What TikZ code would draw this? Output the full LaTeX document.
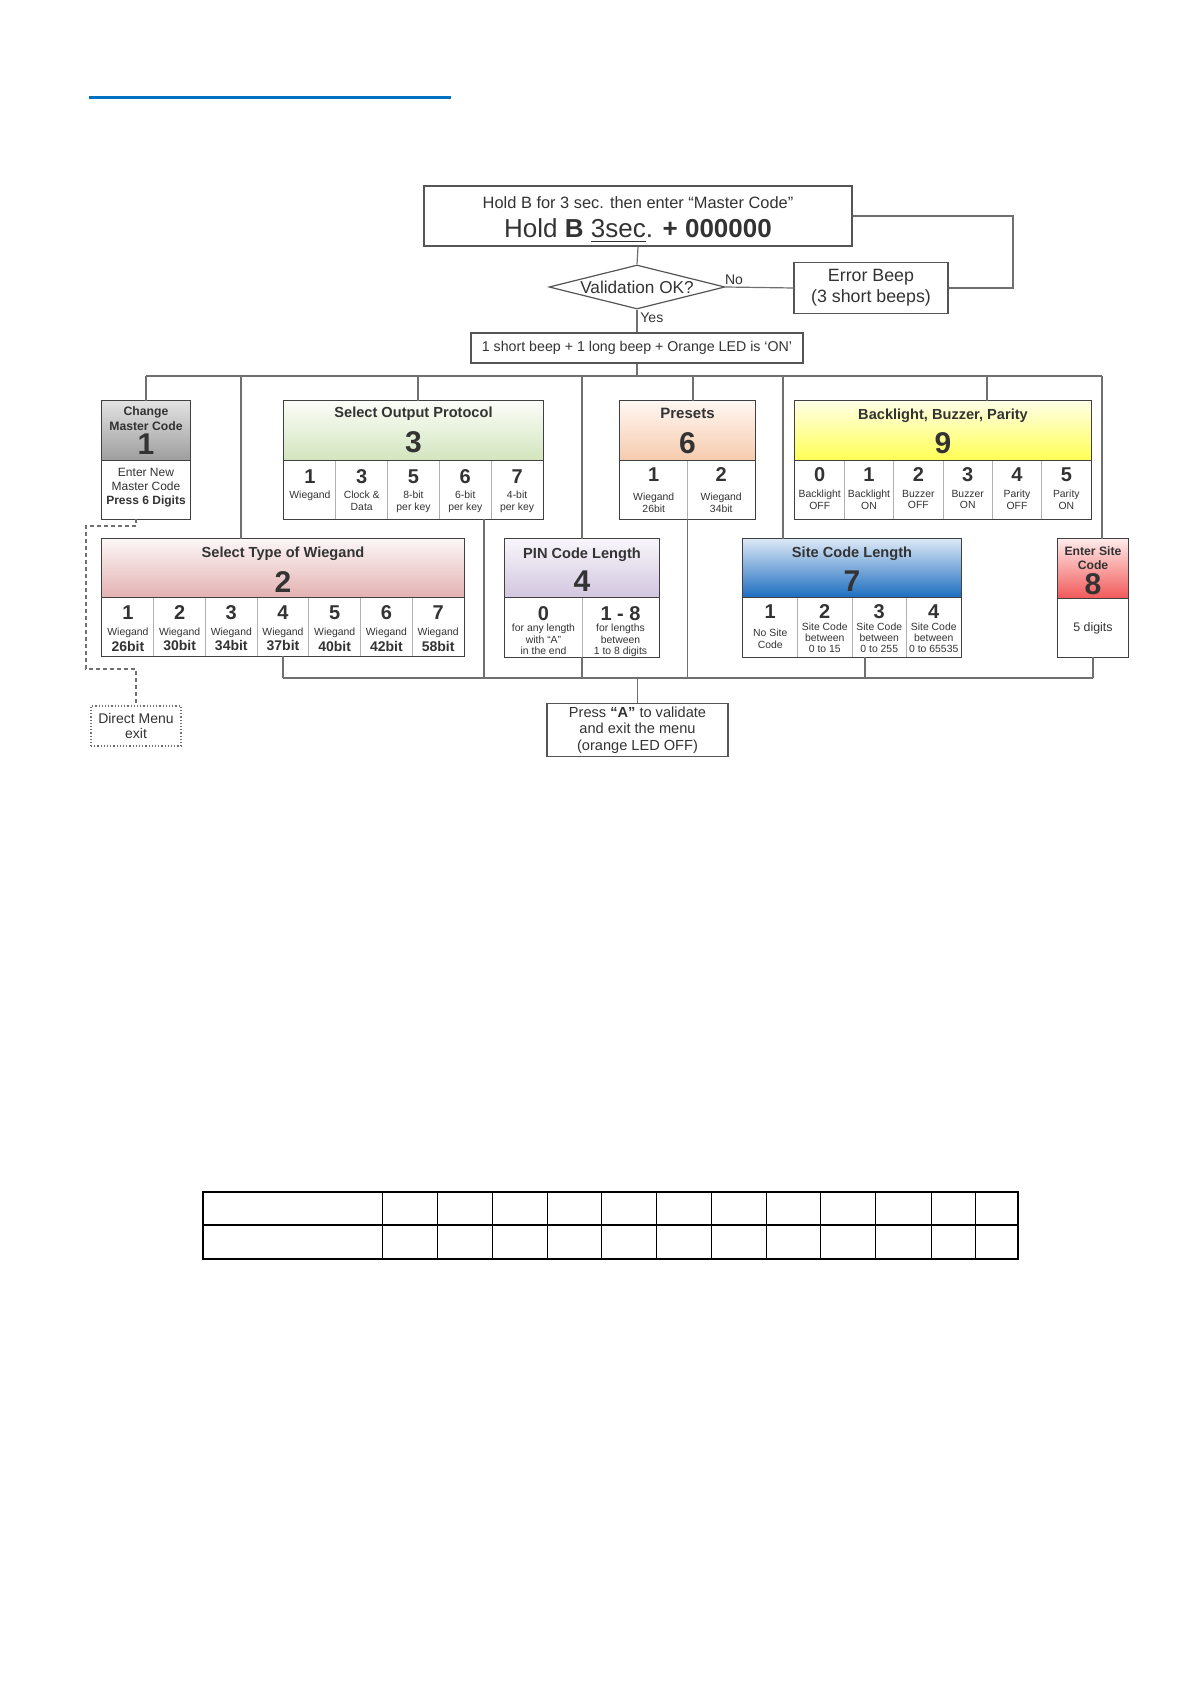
\documentclass[tikz,border=0pt]{standalone}
\usepackage{fontspec}
\setmainfont{Liberation Sans}
\usetikzlibrary{shapes.geometric,calc}
\definecolor{txt}{HTML}{333333}
\definecolor{conc}{HTML}{707070}
\definecolor{frm}{HTML}{404040}
\definecolor{sepc}{HTML}{B0B0B0}
\definecolor{boxc}{HTML}{555555}
\definecolor{blu}{HTML}{0070C0}
\definecolor{g1t}{HTML}{E2E2E2}\definecolor{g1b}{HTML}{9E9E9E}
\definecolor{g3t}{HTML}{FBFDF8}\definecolor{g3b}{HTML}{D3E5BE}
\definecolor{g6t}{HTML}{FFF7F2}\definecolor{g6b}{HTML}{F6CBAE}
\definecolor{g9t}{HTML}{FFFFE6}\definecolor{g9b}{HTML}{FFFF55}
\definecolor{g2t}{HTML}{FCF6F6}\definecolor{g2b}{HTML}{E4B2B2}
\definecolor{g4t}{HTML}{F8F6FB}\definecolor{g4b}{HTML}{D2C6DF}
\definecolor{g7t}{HTML}{DCE8F6}\definecolor{g7b}{HTML}{1E6EC0}
\definecolor{g8t}{HTML}{FFEAEA}\definecolor{g8b}{HTML}{F25A5A}
\newcommand\fs[2]{\fontsize{#1pt}{#2pt}\selectfont}
\tikzset{
 conn/.style={draw=conc, line width=0.6pt},
 dsh/.style={draw=conc, line width=0.6pt, dash pattern=on 2pt off 1.5pt},
 sbox/.style={rectangle, draw=boxc, line width=0.6pt, fill=white, inner sep=0pt, align=center, text=txt},
 boxbg/.style={rectangle, fill=white, draw=none, inner sep=0pt},
 hdrbox/.style={rectangle, draw=none, inner sep=0pt},
 frame/.style={draw=frm, line width=0.8pt},
 hline/.style={draw=frm, line width=0.6pt},
 sepl/.style={draw=sepc, line width=0.5pt},
 ttl/.style={text=txt, inner sep=0pt, align=center, font=\bfseries\fs{7.3}{8.5}},
 ttlb/.style={text=txt, inner sep=0pt, anchor=base, font=\bfseries\fs{7.3}{8.5}},
 big/.style={text=txt, inner sep=0pt, font=\bfseries\fs{15}{15}},
 num/.style={text=txt, inner sep=0pt, font=\bfseries\fs{10}{10}},
 sml/.style={text=txt, inner sep=0pt, align=center, anchor=north, font=\fs{5.2}{5.7}},
 lbl/.style={text=txt, inner sep=0pt, align=center},
}
\newcommand\mkbox[8]{%
 \node[boxbg, minimum width={(#4-#2)/2}, minimum height={(#5-#3)/2}] (#1) at ({(#2+#4)/2},{(#3+#5)/2}) {};
 \node[hdrbox, top color=#7, bottom color=#8, minimum width={(#4-#2)/2}, minimum height={(#6-#3)/2}] (#1h) at ({(#2+#4)/2},{(#3+#6)/2}) {};
}
\newcommand\mkframe[1]{%
 \draw[hline] (#1h.south west) -- (#1h.south east);
 \draw[frame] (#1.south west) rectangle (#1.north east);
}
\newcommand\mkseps[3]{\foreach \sx in {#1} {\draw[sepl] (\sx,#2) -- (\sx,#3);}}
\begin{document}
\begin{tikzpicture}[x=0.5pt,y=-0.5pt]
\useasboundingbox (0,0) rectangle (1192,1684);
\fill[white] (0,0) rectangle (1192,1684);
\draw[blu, line width=1.5pt] (89,98) -- (451,98);

% ---------- top part
\node[sbox, minimum width=214pt, minimum height=30pt] (top) at (638,216) {};
\node[lbl, anchor=base, font=\fs{8.2}{9}] (topt1) at (638,209) {Hold B for 3 sec. then enter “Master Code”};
\node[lbl, anchor=base, font=\fs{13}{14}] (topt2) at (638,238) {Hold \textbf{B} \underline{3sec}. \textbf{+ 000000}};
\node[diamond, draw=boxc, line width=0.6pt, fill=white, aspect=4, inner sep=0pt, minimum width=88pt, minimum height=22pt, text=txt, font=\fs{8.6}{9}] (val) at (637,287) {Validation OK?};
\node[lbl, font=\fs{7}{8}] (no) at (734,280) {No};
\node[lbl, anchor=west, font=\fs{7}{8}] (yes) at (640,318) {Yes};
\node[sbox, minimum width=77pt, minimum height=25.5pt, font=\fs{8.9}{10.5}] (err) at (871,288) {Error Beep\\(3 short beeps)};
\node[sbox, minimum width=166pt, minimum height=15pt, font=\fs{7.1}{8}] (led) at (637,348) {1 short beep + 1 long beep + Orange LED is ‘ON’};
\coordinate (loopc) at (1013,250);
\draw[conn] (top.south) -- (val.north);
\draw[conn] (top.east) -| (loopc) |- (err.east);
\draw[conn] (val.east) -- (err.west);
\draw[conn] (val.south) -- (led.north);

% ---------- box 1
\mkbox{b1}{102}{401}{190}{519}{460}{g1t}{g1b}
\mkframe{b1}
\node[ttl, font=\bfseries\fs{6.1}{7.5}] (b1t) at (146,418.5) {Change\\Master Code};
\node[big] (b1n) at (146,444) {1};
\node[lbl, font=\fs{6}{7}] (b1b) at (146,488) {Enter New\\Master Code\\\textbf{Press 6 Digits}};

% ---------- box 3
\mkbox{b3}{284}{401}{543}{519}{460}{g3t}{g3b}
\mkseps{335.8,387.6,439.4,491.2}{460}{519}
\mkframe{b3}
\node[ttlb] (b3t) at (413.5,417.5) {Select Output Protocol};
\node[big] (b3n) at (413.5,442) {3};
\foreach \cx/\nm/\tx [count=\i] in {309.9/1/{Wiegand}, 361.7/3/{Clock \&\\Data}, 413.5/5/{8-bit\\per key}, 465.3/6/{6-bit\\per key}, 517.1/7/{4-bit\\per key}} {
 \node[num] (b3c\i) at (\cx,477) {\nm};
 \node[sml] (b3d\i) at (\cx,491) {\tx};
}

% ---------- box 6
\mkbox{b6}{620}{401}{755}{519}{460}{g6t}{g6b}
\mkseps{687.5}{460}{519}
\mkframe{b6}
\node[ttlb, font=\bfseries\fs{7.5}{8.5}] (b6t) at (687.5,418.5) {Presets};
\node[big] (b6n) at (687.5,443) {6};
\foreach \cx/\nm/\tx [count=\i] in {653.75/1/{Wiegand\\26bit}, 721.25/2/{Wiegand\\34bit}} {
 \node[num] (b6c\i) at (\cx,475) {\nm};
 \node[sml, font=\fs{5.2}{6}] (b6d\i) at (\cx,493) {\tx};
}

% ---------- box 9
\mkbox{b9}{795}{401}{1091}{519}{460}{g9t}{g9b}
\mkseps{844.3,893.7,943,992.3,1041.7}{460}{519}
\mkframe{b9}
\node[ttlb] (b9t) at (943,419.5) {Backlight, Buzzer, Parity};
\node[big] (b9n) at (943,443) {9};
\foreach \cx/\nm/\tx [count=\i] in {819.7/0/{Backlight\\OFF}, 869/1/{Backlight\\ON}, 918.3/2/{Buzzer\\OFF}, 967.7/3/{Buzzer\\ON}, 1017/4/{Parity\\OFF}, 1066.3/5/{Parity\\ON}} {
 \node[num] (b9c\i) at (\cx,475) {\nm};
 \node[sml, font=\fs{5.2}{5.6}] (b9d\i) at (\cx,490) {\tx};
}

% ---------- box 2
\mkbox{b2}{102}{539}{464}{656}{597}{g2t}{g2b}
\mkseps{153.7,205.4,257.1,308.9,360.6,412.3}{597}{656}
\mkframe{b2}
\node[ttlb] (b2t) at (283,557.5) {Select Type of Wiegand};
\node[big] (b2n) at (283,582) {2};
\foreach \cx/\nm/\tx [count=\i] in {127.9/1/26, 179.6/2/30, 231.3/3/34, 283/4/37, 334.7/5/40, 386.4/6/42, 438.1/7/58} {
 \node[num] (b2c\i) at (\cx,613) {\nm};
 \node[lbl, font=\fs{5.2}{6}] (b2d\i) at (\cx,633) {Wiegand};
 \node[lbl, font=\bfseries\fs{7}{7}] (b2e\i) at (\cx,646) {\tx bit};
}

% ---------- box 4
\mkbox{b4}{505}{539}{659}{657}{597}{g4t}{g4b}
\mkseps{582}{597}{657}
\mkframe{b4}
\node[ttlb] (b4t) at (582,558.5) {PIN Code Length};
\node[big] (b4n) at (582,581) {4};
\node[num] (b4c1) at (543.5,614) {0};
\node[num] (b4c2) at (620.5,614) {1 - 8};
\node[sml, font=\fs{5.2}{5.75}] (b4d1) at (543.5,624) {for any length\\with “A”\\in the end};
\node[sml, font=\fs{5.2}{5.75}] (b4d2) at (620.5,624) {for lengths\\between\\1 to 8 digits};

% ---------- box 7
\mkbox{b7}{743}{539}{961}{657}{597}{g7t}{g7b}
\mkseps{797.5,852,906.5}{597}{657}
\mkframe{b7}
\node[ttlb] (b7t) at (852,557.5) {Site Code Length};
\node[big] (b7n) at (852,581) {7};
\foreach \cx/\nm [count=\i] in {770.25/1, 824.75/2, 879.25/3, 933.75/4} {
 \node[num] (b7c\i) at (\cx,612) {\nm};
}
\node[sml, font=\fs{5.2}{6}] (b7d1) at (770.25,629) {No Site\\Code};
\foreach \cx/\tx [count=\i from 2] in {824.75/{0 to 15}, 879.25/{0 to 255}, 933.75/{0 to 65535}} {
 \node[sml, font=\fs{5.2}{5.5}] (b7d\i) at (\cx,623) {Site Code\\between\\\tx};
}

% ---------- box 8
\mkbox{b8}{1058}{539}{1128}{657}{598}{g8t}{g8b}
\mkframe{b8}
\node[ttl, font=\bfseries\fs{6.1}{7}] (b8t) at (1093,558) {Enter Site\\Code};
\node[big] (b8n) at (1093,584) {8};
\node[lbl, font=\fs{6.2}{7}] (b8b) at (1093,628) {5 digits};

% ---------- bottom boxes
\node[sbox, minimum width=90.5pt, minimum height=26.5pt, font=\fs{7.3}{8.3}] (pa) at (637.5,730) {Press \textbf{“A”} to validate\\and exit the menu\\(orange LED OFF)};
\node[sbox, draw=conc, dash pattern=on 0.6pt off 1pt, minimum width=45pt, minimum height=20pt, font=\fs{7}{7.8}] (dm) at (136,726) {Direct Menu\\exit};

% ---------- top bus
\coordinate (busL) at (146,376);
\coordinate (busR) at (1102,376);
\draw[conn] (led.south) -- (led.south |- busL);
\draw[conn] (busL) -- (busR);
\draw[conn] (b1.north) -- (b1.north |- busL);
\coordinate (b2in) at (241,539);
\draw[conn] (b2in) -- (b2in |- busL);
\coordinate (b3in) at (418,401);
\draw[conn] (b3in) -- (b3in |- busL);
\draw[conn] (b4.north) -- (b4.north |- busL);
\coordinate (b6in) at (693,401);
\draw[conn] (b6in) -- (b6in |- busL);
\coordinate (b7in) at (783,539);
\draw[conn] (b7in) -- (b7in |- busL);
\coordinate (b9in) at (987,401);
\draw[conn] (b9in) -- (b9in |- busL);
\coordinate (b8in) at (1102,539);
\draw[conn] (b8in) -- (b8in |- busL);

% ---------- bottom bus
\coordinate (bbL) at (283,678);
\coordinate (bbR) at (1093,678);
\draw[conn] (bbL) -- (bbR);
\draw[conn] (b2.south) -- (b2.south |- bbL);
\coordinate (b3out) at (484,519);
\draw[conn] (b3out) -- (b3out |- bbL);
\draw[conn] (b4.south) -- (b4.south |- bbL);
\coordinate (b6out) at (687.5,519);
\draw[conn] (b6out) -- (b6out |- bbL);
\coordinate (b7out) at (865,657);
\draw[conn] (b7out) -- (b7out |- bbL);
\draw[conn] (b8.south) -- (b8.south |- bbL);
\draw[conn] (pa.north) -- (pa.north |- bbL);

% ---------- dashed exit path
\coordinate (b1dash) at (136,519);
\coordinate (dA) at (86,526);
\coordinate (dB) at (86,669);
\draw[dsh] (b1dash) |- (dA) -- (dB) -| (dm.north);

% ---------- empty table
\draw[black, line width=0.6pt] (203,1192) rectangle (1018,1259);
\draw[black, line width=0.6pt] (203,1225) -- (1018,1225);
\foreach \tx in {382,437,492,547,601,656,711,766,820,875,931,975} {\draw[black, line width=0.35pt] (\tx,1192) -- (\tx,1259);}
\end{tikzpicture}
\end{document}
